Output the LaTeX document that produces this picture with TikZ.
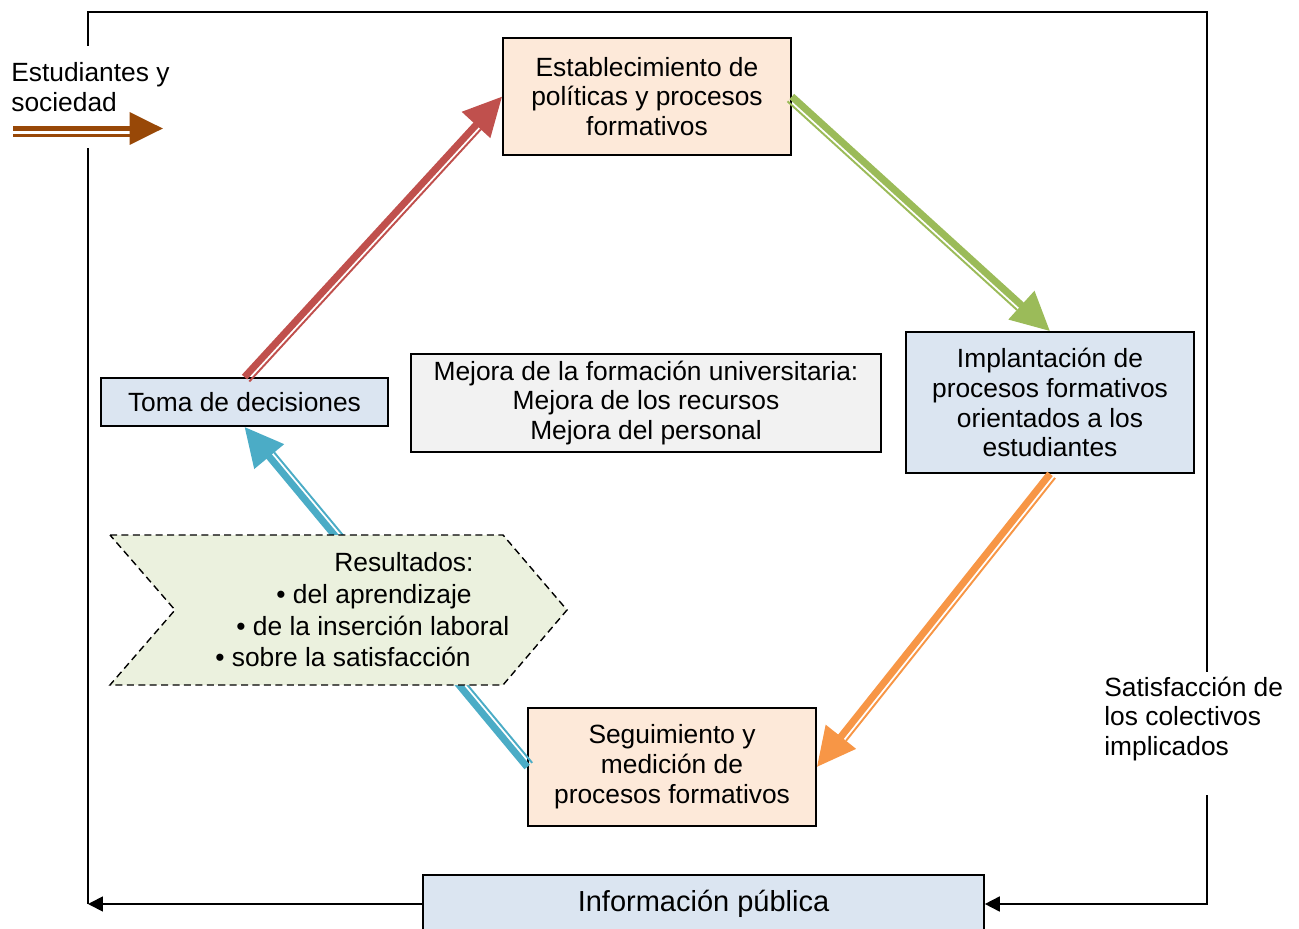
\documentclass[tikz,border=0pt]{standalone}
\usepackage{fontspec}
\setmainfont{Liberation Sans}
\usetikzlibrary{arrows.meta,calc,positioning}

\definecolor{rojo}{HTML}{C0504D}
\definecolor{verde}{HTML}{9BBB59}
\definecolor{naranja}{HTML}{F79646}
\definecolor{azul}{HTML}{4BACC6}
\definecolor{marron}{HTML}{984807}
\definecolor{melocoton}{HTML}{FDE9D9}
\definecolor{celeste}{HTML}{DBE5F1}
\definecolor{gris}{HTML}{F2F2F2}
\definecolor{verdeclaro}{HTML}{EBF1DE}

\tikzset{
  caja/.style={draw=black, line width=1pt, align=center, inner sep=2pt, font=\fontsize{15}{17}\selectfont},
  texto/.style={align=left, inner sep=0pt, font=\fontsize{15}{17}\selectfont},
  marco/.style={line width=1pt},
  puntamarco/.style={-{Triangle[length=8.5pt,width=8.5pt]}},
  resultado/.style={draw=black, fill=verdeclaro, line width=0.8pt, dash pattern=on 4pt off 2.5pt},
}

% flecha gruesa con linea fina al lado: color, desde, hasta, lado (-90 derecha, 90 izquierda)
\newcommand{\flecha}[4]{%
  \draw[#1, line width=4pt, -{Triangle[length=22pt,width=21pt]}] (#2) -- (#3);
  \draw[#1, line width=1.1pt] ($(#2)!3.7pt!#4:(#3)$) -- ($(#3)!22pt!(#2)!3.7pt!#4:(#3)$);
}

\begin{document}
\begin{tikzpicture}[x=0.02cm, y=-0.02cm]
\useasboundingbox (0,0) rectangle (1299,929);

% marco exterior
\coordinate (tl) at (88,12);
\coordinate (tr) at (1207,12);
\coordinate (br) at (1207,904);
\coordinate (bl) at (88,904);
\coordinate (lgap1) at (88,46);
\coordinate (lgap2) at (88,148);
\coordinate (rgap1) at (1207,672);
\coordinate (rgap2) at (1207,795);

\node (est) [caja, fill=melocoton, minimum width=5.76cm, minimum height=2.34cm] at (647,96.5)
  {Establecimiento de\\políticas y procesos\\formativos};
\node (impl) [caja, fill=celeste, minimum width=5.76cm, minimum height=2.82cm] at (1050,402.5)
  {Implantación de\\procesos formativos\\orientados a los\\estudiantes};
\node (seg) [caja, fill=melocoton, minimum width=5.76cm, minimum height=2.36cm] at (672,767)
  {Seguimiento y\\medición de\\procesos formativos};
\node (toma) [caja, fill=celeste, minimum width=5.74cm, minimum height=0.96cm] at (244.5,402)
  {Toma de decisiones};
\node (mejora) [caja, fill=gris, minimum width=9.4cm, minimum height=1.96cm] at (646,403)
  {Mejora de la formación universitaria:\\Mejora de los recursos\\Mejora del personal};
\node (info) [caja, fill=celeste, minimum width=11.22cm, minimum height=1.16cm, font=\fontsize{16.5}{19}\selectfont] at (703.5,904)
  {Información pública};

\node (estud) [texto, anchor=west] at (11,87) {Estudiantes y\\sociedad};
\node (satis) [texto, anchor=west] at (1104,719) {Satisfacción de\\los colectivos\\implicados};

\draw[marco] (lgap1) -- (tl) -- (tr) -- (rgap1);
\draw[marco, puntamarco] (rgap2) -- (br) -- (info.east);
\draw[marco, puntamarco] (info.west) -- (bl);
\draw[marco] (bl) -- (lgap2);

% entrada
\coordinate (ent1) at (13,128.5);
\coordinate (ent2) at (163,128.5);
\draw[marron, line width=2.8pt, -{Triangle[length=19pt,width=18pt]}] (ent1) -- (ent2);
\draw[marron, line width=1.3pt] ($(ent1)!4pt!-90:(ent2)$) -- ($(ent2)!19pt!(ent1)!4pt!-90:(ent2)$);

% ciclo
\flecha{rojo}{toma.north}{est.west}{-90}
\flecha{verde}{est.east}{impl.north}{-90}
\flecha{naranja}{impl.south}{seg.east}{90}
\flecha{azul}{seg.west}{toma.south}{-90}

\draw[resultado] (110,535) -- (503,535) -- (567,610) -- (503,685) -- (110,685) -- (175,610) -- cycle;
\node (res) [texto, anchor=west, font=\fontsize{15}{18}\selectfont] at (215,610)
  {\hspace*{2.38cm}Resultados:\\
   \hspace*{1.22cm}\textbullet{} del aprendizaje\\
   \hspace*{0.42cm}\textbullet{} de la inserción laboral\\
   \textbullet{} sobre la satisfacción};
\end{tikzpicture}
\end{document}
